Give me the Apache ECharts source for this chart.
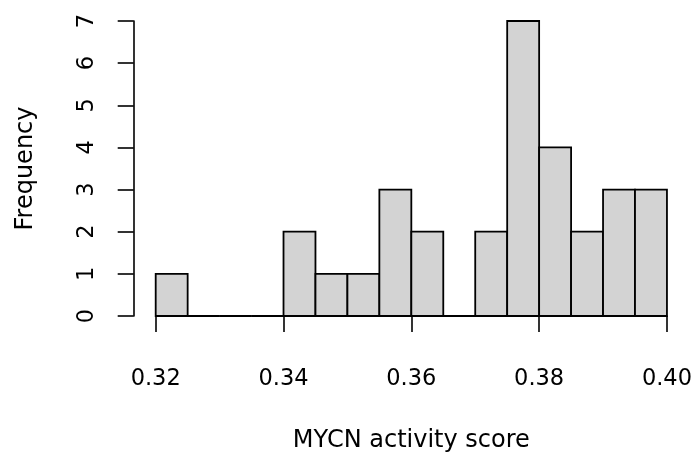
<!DOCTYPE html>
<html>
<head>
<meta charset="utf-8">
<script src="https://cdn.jsdelivr.net/npm/echarts@6/dist/echarts.min.js"></script>
<style>html,body{margin:0;padding:0;background:#fff}#c{width:695px;height:458px}</style>
</head>
<body>
<div id="c"></div>
<script>
const binStarts = [0.320,0.325,0.330,0.335,0.340,0.345,0.350,0.355,0.360,0.365,0.370,0.375,0.380,0.385,0.390,0.395];
const binEnds   = [0.325,0.330,0.335,0.340,0.345,0.350,0.355,0.360,0.365,0.370,0.375,0.380,0.385,0.390,0.395,0.400];
const counts    = [1,0,0,0,2,1,1,3,2,0,2,7,4,2,3,3];
const xTicks = [0.32,0.34,0.36,0.38,0.40];
const yTicks = [0,1,2,3,4,5,6,7];
const xTitle = 'MYCN activity score';
const yTitle = 'Frequency';

const FONT = '"DejaVu Sans", "Liberation Sans", Arial, sans-serif';
const data = binStarts.map((s,i)=>[s, binEnds[i], counts[i]]);

const chart = echarts.init(document.getElementById('c'), null, {renderer:'canvas'});
chart.setOption({
  animation:false,
  backgroundColor:'#ffffff',
  grid:{left:155.7, right:28, top:21, bottom:140.7, containLabel:false},
  xAxis:{
    type:'value', min:0.32, max:0.40, interval:0.02, offset:13,
    name:xTitle, nameLocation:'middle', nameGap:100,
    nameTextStyle:{fontFamily:FONT, fontSize:24, color:'#000'},
    axisLine:{show:true, lineStyle:{color:'#000', width:1.6}},
    axisTick:{show:true, length:16, lineStyle:{color:'#000', width:1.6}},
    axisLabel:{fontFamily:FONT, fontSize:22.5, color:'#000', margin:39,
      formatter:v=>{const t=xTicks.find(x=>Math.abs(x-v)<1e-9);return t===undefined?'':t.toFixed(2);}},
    splitLine:{show:false}
  },
  yAxis:{
    type:'value', min:0, max:7, interval:1, offset:22,
    name:yTitle, nameLocation:'middle', nameGap:96, nameRotate:90,
    nameTextStyle:{fontFamily:FONT, fontSize:24, color:'#000'},
    axisLine:{show:true, lineStyle:{color:'#000', width:1.6}},
    axisTick:{show:true, length:16, lineStyle:{color:'#000', width:1.6}},
    axisLabel:{fontFamily:FONT, fontSize:22.5, color:'#000', rotate:90, margin:35,
      formatter:v=>yTicks.includes(v)?String(v):''},
    splitLine:{show:false}
  },
  series:[{
    type:'custom',
    clip:false,
    data:data,
    encode:{x:[0,1], y:2},
    renderItem:function(params, api){
      const p0 = api.coord([api.value(0), 0]);
      const p1 = api.coord([api.value(1), api.value(2)]);
      const x = p0[0], w = p1[0]-p0[0];
      const y = p1[1], h = p0[1]-p1[1];
      if (h < 0.5) {
        return {type:'line', shape:{x1:x, y1:p0[1], x2:x+w, y2:p0[1]},
          style:{stroke:'#000', lineWidth:1.8}};
      }
      return {type:'rect', shape:{x:x, y:y, width:w, height:h},
        style:{fill:'#d3d3d3', stroke:'#000', lineWidth:1.8}};
    }
  }]
});
</script>
</body>
</html>
